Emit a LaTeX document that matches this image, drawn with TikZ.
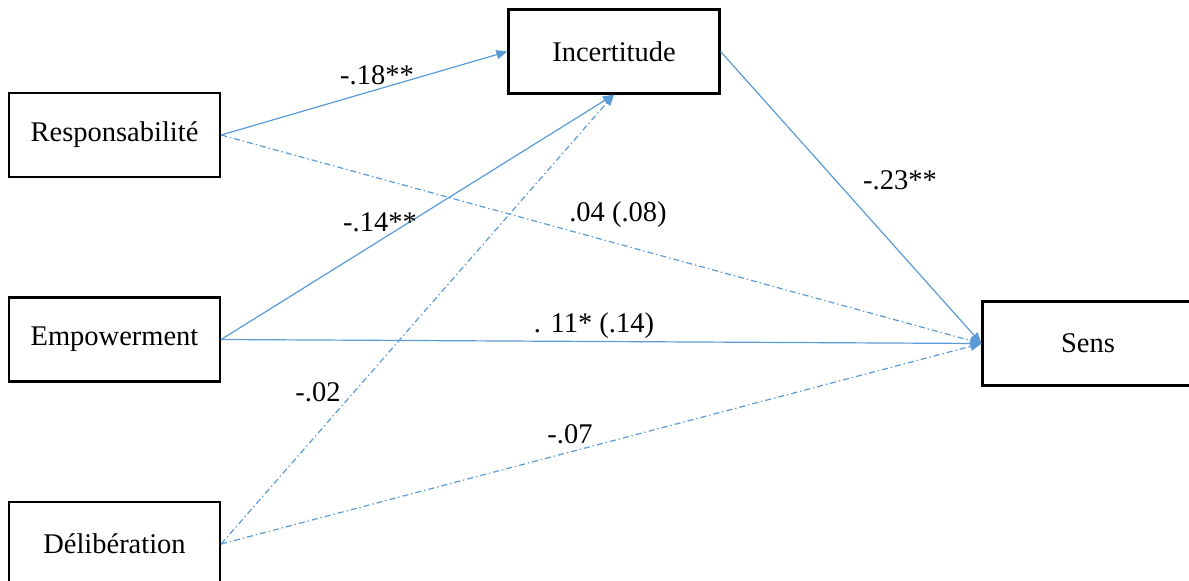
\documentclass[tikz,border=0pt]{standalone}
\usepackage{fontspec}
\setmainfont{Liberation Serif}
\newfontfamily\tnr{Liberation Serif}
\usetikzlibrary{arrows.meta}
\definecolor{lblue}{RGB}{91,155,213}
\begin{document}
\begin{tikzpicture}[x=0.5pt,y=-0.5pt,
  box/.style={draw=black,line width=1.1pt,minimum width=105.5pt,minimum height=42pt,inner sep=0pt,font=\tnr\fontsize{14.25}{17}\selectfont},
  lab/.style={inner sep=0pt,font=\tnr\fontsize{14.25}{17}\selectfont},
  conn/.style={draw=lblue,line width=0.6pt,-{Triangle[length=5.5pt,width=4.5pt]}},
  dd/.style={dash pattern=on 3pt off 1.5pt on 0.7pt off 1.5pt}]
\useasboundingbox (0,0) rectangle (1189,580);
\node[box] (resp) at (114.5,135) {Responsabilité};
\node[box] (emp) at (114.5,339.5) {Empowerment};
\node[box] (delib) at (114.5,544) {Délibération};
\node[box] (inc) at (614,51.5) {Incertitude};
\node[box] (sens) at (1088,343.5) {Sens};
\draw[conn] (resp.east) -- (inc.west);
\draw[conn,dd] (resp.east) -- (sens.west);
\draw[conn] (emp.east) -- (inc.south);
\draw[conn] (emp.east) -- (sens.west);
\draw[conn,dd] (delib.east) -- (inc.south);
\draw[conn,dd] (delib.east) -- (sens.west);
\draw[conn] (inc.east) -- (sens.west);
\node[lab] (l1) at (377,75) {-.18**};
\node[lab] (l2) at (380,222) {-.14**};
\node[lab] (l3) at (618,215) {.04 (.08)};
\node[lab] (l4) at (594,326) {. 11* (.14)};
\node[lab] (l5) at (318,392) {-.02};
\node[lab] (l6) at (570,434) {-.07};
\node[lab] (l7) at (900,180) {-.23**};
\end{tikzpicture}
\end{document}
